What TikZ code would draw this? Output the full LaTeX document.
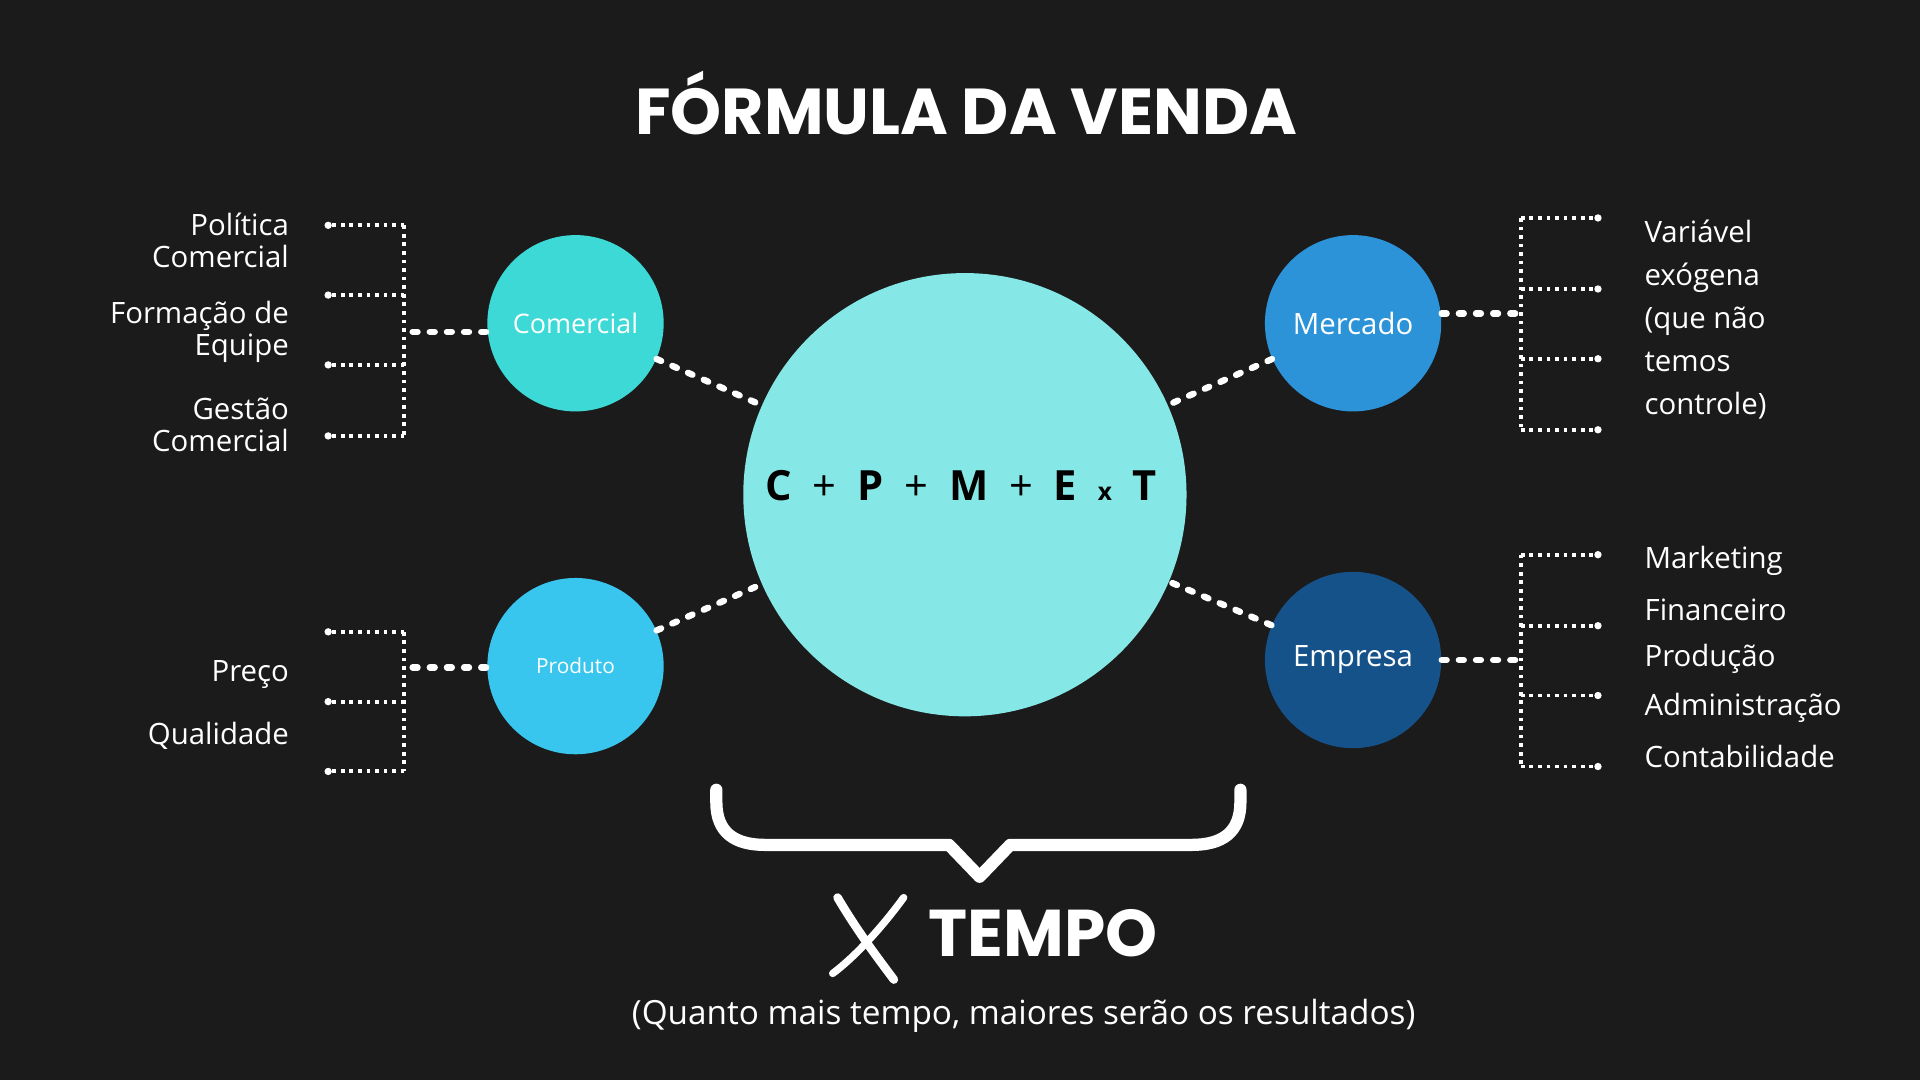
\documentclass[tikz,border=0pt]{standalone}
\usepackage{fontspec}
\setmainfont{Open Sans}
\newfontfamily\titlefont{Poppins}
\begin{document}
\begin{tikzpicture}[x=0.5pt,y=-0.5pt,
  circ/.style={circle,minimum size=72pt,inner sep=0,text=white},
  dots/.style={white,line width=1.6pt,dash pattern=on 1.5pt off 2pt},
  bigdots/.style={white,line width=2.6pt,line cap=round,dash pattern=on 2pt off 5pt},
  dotend/.style={circle,fill=white,inner sep=0,minimum size=3pt},
  lab/.style={text=white,font=\fontsize{12}{13}\selectfont,align=right,anchor=east},
  rlab/.style={text=white,font=\fontsize{12}{13}\selectfont,anchor=west}]
\definecolor{bgc}{HTML}{1B1B1B}
\definecolor{cen}{HTML}{86E8E6}
\definecolor{com}{HTML}{3DD9D6}
\definecolor{pro}{HTML}{38C6EE}
\definecolor{mer}{HTML}{2D93D8}
\definecolor{emp}{HTML}{15528A}
\fill[bgc] (0,0) rectangle (1568,882);
\useasboundingbox (0,0) rectangle (1568,882);
\node[text=white,font=\titlefont\bfseries\fontsize{26.5}{28}\selectfont] (title) at (789,84) {FÓRMULA DA VENDA};
\node[circle,fill=cen,minimum size=181pt,inner sep=0] (c) at (788,404) {};
\node[font=\bfseries\fontsize{17}{18}\selectfont] (f) at (785,397) {C\enspace{\mdseries +}\enspace P\enspace{\mdseries +}\enspace M\enspace{\mdseries +}\enspace E\enspace{\fontsize{10}{10}\selectfont x}\enspace T};
\node[circ,fill=com,font=\fontsize{11}{12}\selectfont] (com) at (470,264) {Comercial};
\node[circ,fill=pro,font=\fontsize{8.5}{10}\selectfont] (pro) at (470,544) {Produto};
\node[circ,fill=mer,font=\fontsize{12}{13}\selectfont] (mer) at (1105,264) {Mercado};
\node[circ,fill=emp,font=\fontsize{12}{13}\selectfont] (emp) at (1105,539) {Empresa};
\draw[bigdots] (com) -- (c);
\draw[bigdots] (pro) -- (c);
\draw[bigdots] (mer) -- (c);
\draw[bigdots] (emp) -- (c);
% left brackets
\coordinate (cl) at (337,271);
\draw[bigdots] (cl) -- (com.west |- cl);
\draw[dots] (330,184) -- (330,356);
\foreach \y [count=\i] in {184,241,298,356}{
  \node[dotend] (lc\i) at (268,\y) {};
  \draw[dots] (lc\i) -- (330,\y);}
\coordinate (pl) at (337,545);
\draw[bigdots] (pl) -- (pro.west |- pl);
\draw[dots] (330,516) -- (330,630);
\foreach \y [count=\i] in {516,573,630}{
  \node[dotend] (lp\i) at (268,\y) {};
  \draw[dots] (lp\i) -- (330,\y);}
% right brackets
\coordinate (mr) at (1240,256);
\draw[bigdots] (mer.east |- mr) -- (mr);
\draw[dots] (1242,178) -- (1242,351);
\foreach \y [count=\i] in {178,236,293,351}{
  \node[dotend] (rm\i) at (1305,\y) {};
  \draw[dots] (1242,\y) -- (rm\i);}
\coordinate (er) at (1240,539);
\draw[bigdots] (emp.east |- er) -- (er);
\draw[dots] (1242,453) -- (1242,626);
\foreach \y [count=\i] in {453,511,568,626}{
  \node[dotend] (re\i) at (1305,\y) {};
  \draw[dots] (1242,\y) -- (re\i);}
% labels
\node[lab] (t1) at (243,196) {Política\\Comercial};
\node[lab] (t2) at (243,271) {Formação de\\Equipe};
\node[lab] (t3) at (243,347) {Gestão\\Comercial};
\node[lab] (t4) at (243,551) {Preço};
\node[lab] (t5) at (243,601) {Qualidade};
\node[rlab,align=left,font=\fontsize{12}{17.5}\selectfont] (v) at (1336,261) {Variável\\exógena\\(que não\\temos\\controle)};
\foreach \t/\y [count=\i] in {Marketing/458,Financeiro/498,Produção/538,Administração/578,Contabilidade/618}
  \node[rlab] (e\i) at (1336,\y) {\t};
% brace
\draw[white,line width=5pt,line join=round,line cap=round] (585,645) -- (585,655) .. controls (585,680) and (600,690) .. (625,690) -- (775,690) -- (800,716) -- (825,690) -- (973,690) .. controls (998,690) and (1013,680) .. (1013,655) -- (1013,645);
% X mark
\draw[white,line width=3.5pt,line cap=round] (684,733) .. controls (700,760) and (715,780) .. (730,800);
\draw[white,line width=3pt,line cap=round] (738,733) .. controls (722,755) and (700,780) .. (680,795);
\node[text=white,font=\titlefont\bfseries\fontsize{27}{29}\selectfont] (tempo) at (852,762) {TEMPO};
\node[text=white,font=\fontsize{13.6}{15}\selectfont] (sub) at (836,830) {(Quanto mais tempo, maiores serão os resultados)};
\end{tikzpicture}
\end{document}
